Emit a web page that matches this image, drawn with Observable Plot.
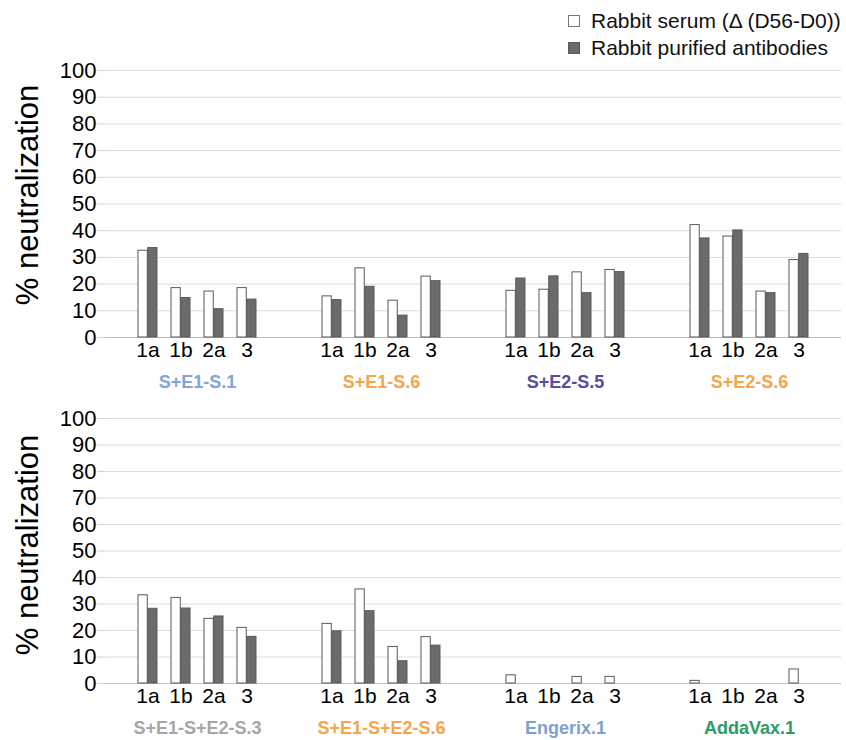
<!DOCTYPE html>
<html>
<head>
<meta charset="utf-8">
<script src="https://cdn.jsdelivr.net/npm/d3@7"></script>
<script src="https://cdn.jsdelivr.net/npm/@observablehq/plot@0.6"></script>
<style>
  body { margin: 0; background: #fff; font-family: "Liberation Sans", Arial, sans-serif; }
  #wrap { position: relative; width: 846px; height: 740px; overflow: hidden; background: #fff; }
  .panel { position: absolute; left: 0; }
  .ylab { position: absolute; font-size: 31px; line-height: 31px; color: #000; white-space: nowrap;
          transform: translate(-50%, -50%) rotate(-90deg); }
  .sq { position: absolute; width: 12px; height: 12px; box-sizing: border-box; }
  .legtxt { position: absolute; left: 591px; font-size: 21px; line-height: 21px; color: #111; white-space: nowrap; }
</style>
</head>
<body>
<div id="wrap">
  <div class="sq" style="left:568px; top:15px; background:#fff; border:1px solid #777;"></div>
  <div class="legtxt" style="top:10px;">Rabbit serum (Δ (D56-D0))</div>
  <div class="sq" style="left:568px; top:42px; background:#6b6b6b; border:1px solid #5a5a5a;"></div>
  <div class="legtxt" style="top:36.5px;">Rabbit purified antibodies</div>
  <div class="ylab" style="left:27px; top:195px;">% neutralization</div>
  <div class="ylab" style="left:27px; top:545px;">% neutralization</div>
  <div id="top" class="panel" style="top:58px;"></div>
  <div id="bottom" class="panel" style="top:406px;"></div>
</div>
<script>
const categories = ["1a", "1b", "2a", "3"];
const yTicks = [0, 10, 20, 30, 40, 50, 60, 70, 80, 90, 100];

const topGroups = ["S+E1-S.1", "S+E1-S.6", "S+E2-S.5", "S+E2-S.6"];
const topColors = ["#7fa6d6", "#f5a54a", "#5a4c9c", "#f5a54a"];
const topSerum = [
  [32.5, 18.5, 17.2, 18.5],
  [15.4, 25.9, 13.8, 22.8],
  [17.5, 17.9, 24.4, 25.3],
  [42.1, 37.8, 17.2, 29.0]
];
const topAntibodies = [
  [33.5, 14.8, 10.6, 14.2],
  [14.0, 19.0, 8.2, 21.1],
  [22.1, 22.9, 16.6, 24.5],
  [37.1, 40.1, 16.6, 31.3]
];

const bottomGroups = ["S+E1-S+E2-S.3", "S+E1-S+E2-S.6", "Engerix.1", "AddaVax.1"];
const bottomColors = ["#a6a6a6", "#f5a54a", "#7f9fd0", "#2e9b68"];
const bottomSerum = [
  [33.3, 32.3, 24.4, 21.0],
  [22.5, 35.5, 13.8, 17.5],
  [3.1, null, 2.5, 2.5],
  [1.0, null, null, 5.3]
];
const bottomAntibodies = [
  [28.2, 28.3, 25.3, 17.6],
  [19.7, 27.3, 8.4, 14.3],
  [null, null, null, null],
  [null, null, null, null]
];

function panel(groups, colors, serum, antibodies, plotHeight, marginBottom) {
  const rows = [];
  groups.forEach((g, i) => categories.forEach((c, j) =>
    rows.push({group: g, cat: c, serum: serum[i][j], antibodies: antibodies[i][j]})));
  return Plot.plot({
    width: 846,
    height: 12 + plotHeight + marginBottom,
    marginTop: 12,
    marginBottom: marginBottom,
    marginLeft: 104,
    marginRight: 4,
    style: {fontFamily: "'Liberation Sans', Arial, sans-serif", fontSize: "21px", color: "#000", background: "transparent", overflow: "visible"},
    fx: {domain: groups, padding: 0, axis: null},
    x: {domain: categories, paddingInner: 0.4265, paddingOuter: 0.926, axis: null},
    y: {domain: [0, 100], axis: null},
    marks: [
      Plot.gridY(yTicks, {stroke: "#dcdcdc", strokeOpacity: 1}),
      Plot.axisY(yTicks, {tickSize: 8, tickPadding: 1, stroke: "#d0d0d0", fill: "#000", fontSize: 22, label: null}),
      Plot.axisX({tickSize: 0, tickPadding: 5, fontSize: 21, fill: "#000", label: null}),
      Plot.ruleY([0], {stroke: "#bfbfbf"}),
      Plot.barY(rows.filter(d => d.serum != null), {fx: "group", x: "cat", y: "serum", fill: "white", stroke: "#595959", strokeWidth: 1, insetRight: 9.75}),
      Plot.barY(rows.filter(d => d.antibodies != null), {fx: "group", x: "cat", y: "antibodies", fill: "#6b6b6b", stroke: "#5a5a5a", strokeWidth: 1, insetLeft: 9.75}),
      ...groups.map((g, i) => Plot.text([g], {fx: d => d, text: d => d, frameAnchor: "bottom", lineAnchor: "top", dy: 38, fill: colors[i], fontWeight: "bold", fontSize: 18}))
    ]
  });
}

document.getElementById("top").append(panel(topGroups, topColors, topSerum, topAntibodies, 267, 60));
document.getElementById("bottom").append(panel(bottomGroups, bottomColors, bottomSerum, bottomAntibodies, 265, 57));
</script>
</body>
</html>
